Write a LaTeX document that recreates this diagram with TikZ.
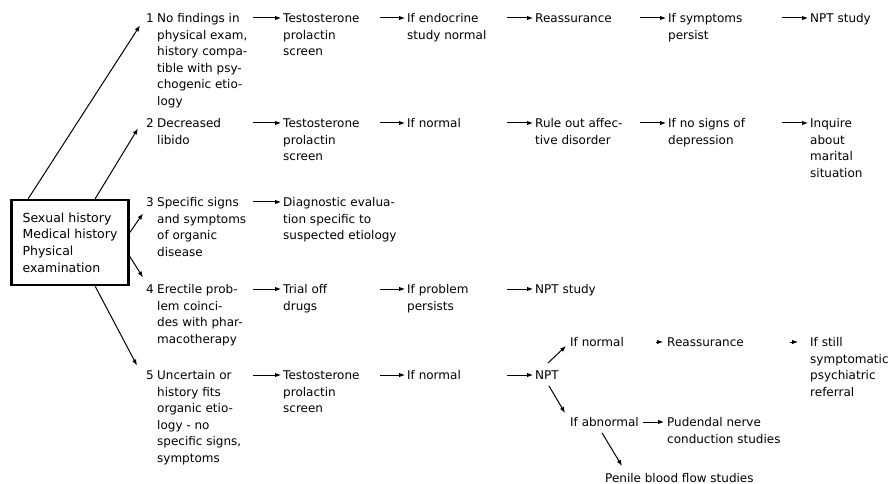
\documentclass[tikz,border=0pt]{standalone}
\usepackage{fontspec}
\setmainfont{DejaVu Sans}
\usetikzlibrary{arrows.meta,calc}
\begin{document}
\begin{tikzpicture}[x=1pt,y=-1pt,
  txt/.style={anchor=north west,inner sep=0pt,align=left,font=\fontsize{12}{16.5}\selectfont},
  arr/.style={-{Latex[length=6pt,width=4.5pt]},line width=1pt},
  mainbox/.style={draw,line width=2.6pt,align=left,inner sep=0pt,minimum width=117pt,minimum height=85pt,font=\fontsize{12.5}{16.6}\selectfont}]
\useasboundingbox[fill=white] (0,0) rectangle (895,484);

% main box
\node[mainbox] (box) at (70,242.5) {Sexual history\\Medical history\\Physical\\examination};

% numbers
\node[txt] (n1) at (146,11) {\strut 1};
\node[txt] (n2) at (146,116) {\strut 2};
\node[txt] (n3) at (146,195) {\strut 3};
\node[txt] (n4) at (146,282) {\strut 4};
\node[txt] (n5) at (146,368) {\strut 5};

% column A
\node[txt] (a1) at (157,11) {\strut No findings in\\physical exam,\\history compa-\\tible with psy-\\chogenic etio-\\logy};
\node[txt] (a2) at (157,116) {\strut Decreased\\libido};
\node[txt] (a3) at (157,195) {\strut Specific signs\\and symptoms\\of organic\\disease};
\node[txt] (a4) at (157,282) {\strut Erectile prob-\\lem coinci-\\des with phar-\\macotherapy};
\node[txt] (a5) at (157,368) {\strut Uncertain or\\history fits\\organic etio-\\logy - no\\specific signs,\\symptoms};

% column B
\node[txt] (b1) at (283,11) {\strut Testosterone\\prolactin\\screen};
\node[txt] (b2) at (283,116) {\strut Testosterone\\prolactin\\screen};
\node[txt] (b3) at (283,195) {\strut Diagnostic evalua-\\tion specific to\\suspected etiology};
\node[txt] (b4) at (283,282) {\strut Trial off\\drugs};
\node[txt] (b5) at (283,368) {\strut Testosterone\\prolactin\\screen};

% column C
\node[txt] (c1) at (407,11) {\strut If endocrine\\study normal};
\node[txt] (c2) at (407,116) {\strut If normal};
\node[txt] (c4) at (407,282) {\strut If problem\\persists};
\node[txt] (c5) at (407,368) {\strut If normal};

% column D
\node[txt] (d1) at (535,11) {\strut Reassurance};
\node[txt] (d2) at (535,116) {\strut Rule out affec-\\tive disorder};
\node[txt] (d4) at (535,282) {\strut NPT study};
\node[txt] (npt) at (535,368) {\strut NPT};

% column E
\node[txt] (e1) at (668,11) {\strut If symptoms\\persist};
\node[txt] (e2) at (668,116) {\strut If no signs of\\depression};

% column F
\node[txt] (f1) at (810,11) {\strut NPT study};
\node[txt] (f2) at (810,116) {\strut Inquire\\about\\marital\\situation};

% NPT sub-branches
\node[txt] (ifn) at (570,335) {\strut If normal};
\node[txt] (re) at (667,335) {\strut Reassurance};
\node[txt] (st) at (810,335) {\strut If still\\symptomatic\\psychiatric\\referral};
\node[txt] (ifa) at (570,415) {\strut If abnormal};
\node[txt] (pud) at (667,415) {\strut Pudendal nerve\\conduction studies};
\node[txt] (pen) at (605,471) {\strut Penile blood flow studies};

% arrows from the main box
\draw[arr] ($(box.north west)+(18,0)$) -- ($(n1.west)+(-6,6)$);
\draw[arr] ($(box.north west)+(85,0)$) -- ($(n2.west)+(-8,4)$);
\draw[arr] ($(box.east)+(0,-10)$) -- ($(n3.west)+(-3,10)$);
\draw[arr] ($(box.east)+(0,14)$) -- ($(n4.west)+(-3,-13)$);
\draw[arr] ($(box.south west)+(85,0)$) -- ($(n5.west)+(-9,-11)$);

% row 1
\draw[arr] ($(a1.north west)+(96,7)$) -- ($(b1.north west)+(-2,7)$);
\draw[arr] ($(b1.north west)+(97,7)$) -- ($(c1.north west)+(-2,7)$);
\draw[arr] ($(c1.north west)+(100,7)$) -- ($(d1.north west)+(-2,7)$);
\draw[arr] ($(d1.north west)+(105,7)$) -- ($(e1.north west)+(-2,7)$);
\draw[arr] ($(e1.north west)+(114,7)$) -- ($(f1.north west)+(-2,7)$);
% row 2
\draw[arr] ($(a2.north west)+(96,7)$) -- ($(b2.north west)+(-2,7)$);
\draw[arr] ($(b2.north west)+(97,7)$) -- ($(c2.north west)+(-2,7)$);
\draw[arr] ($(c2.north west)+(100,7)$) -- ($(d2.north west)+(-2,7)$);
\draw[arr] ($(d2.north west)+(105,7)$) -- ($(e2.north west)+(-2,7)$);
\draw[arr] ($(e2.north west)+(114,7)$) -- ($(f2.north west)+(-2,7)$);
% row 3
\draw[arr] ($(a3.north west)+(96,7)$) -- ($(b3.north west)+(-2,7)$);
% row 4
\draw[arr] ($(a4.north west)+(96,7)$) -- ($(b4.north west)+(-2,7)$);
\draw[arr] ($(b4.north west)+(97,7)$) -- ($(c4.north west)+(-2,7)$);
\draw[arr] ($(c4.north west)+(100,7)$) -- ($(d4.north west)+(-2,7)$);
% row 5
\draw[arr] ($(a5.north west)+(96,7)$) -- ($(b5.north west)+(-2,7)$);
\draw[arr] ($(b5.north west)+(97,7)$) -- ($(c5.north west)+(-2,7)$);
\draw[arr] ($(c5.north west)+(100,7)$) -- ($(npt.north west)+(-2,7)$);

% NPT branches
\draw[arr] ($(npt.north)+(1,-5)$) -- ($(ifn.north west)+(-4,11)$);
\draw[arr] ($(npt.south)+(2,1)$) -- ($(ifa.north west)+(-5,-2)$);
\draw[arr] ($(re.north west)+(-11,7)$) -- ($(re.north west)+(-4,7)$);
\draw[arr] ($(st.north west)+(-20,7)$) -- ($(st.north west)+(-12,7)$);
\draw[arr] ($(ifa.north east)+(4,7)$) -- ($(pud.north west)+(-3,7)$);
\draw[arr] ($(ifa.south west)+(32,1)$) -- ($(pen.north west)+(17,-5)$);
\end{tikzpicture}
\end{document}
